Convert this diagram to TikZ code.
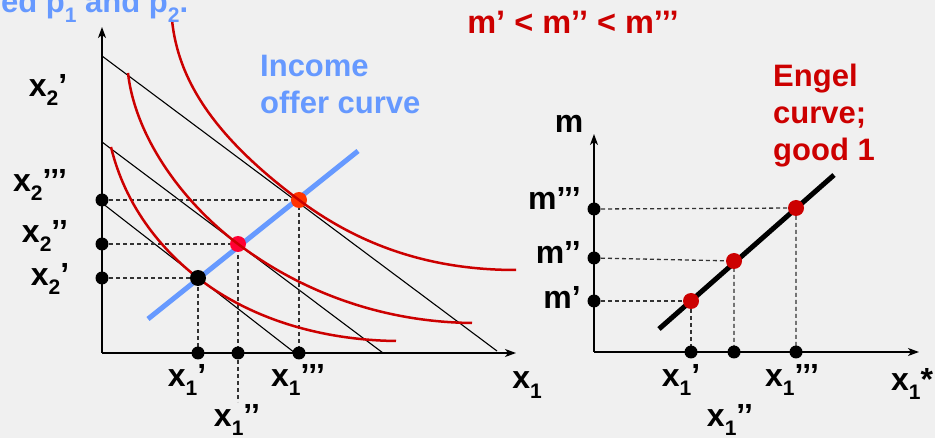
\documentclass[tikz,border=0pt]{standalone}
\usepackage{fontspec}
\setmainfont{Liberation Sans}
\usetikzlibrary{arrows.meta}
\definecolor{bg}{HTML}{F0F0F0}
\definecolor{icred}{HTML}{CC0000}
\definecolor{iocblue}{HTML}{6699FF}
\definecolor{ptpink}{HTML}{FF0033}
\definecolor{ptorange}{HTML}{FF3300}
\definecolor{dgray}{HTML}{333333}
\newcommand\sbx[1]{\raisebox{-0.3em}{\fontsize{21}{21}\selectfont #1}}
\newcommand\xl[2]{x\sbx{#1}#2}
\begin{document}
\begin{tikzpicture}[x=1pt,y=-1pt,
  lbl/.style={font=\fontsize{32}{36}\selectfont\bfseries, inner sep=0pt},
  txt/.style={font=\fontsize{31}{37}\selectfont\bfseries, inner sep=0pt, align=left},
  axisline/.style={line width=1.4pt, -{Stealth[length=11pt,width=8pt,inset=3pt]}},
  budget/.style={line width=1.1pt},
  ic/.style={line width=2.5pt, draw=icred},
  ioc/.style={line width=5pt, draw=iocblue},
  engel/.style={line width=5pt, draw=black},
  guide/.style={dash pattern=on 4pt off 3pt, line width=1.3pt, draw=dgray},
  axdot/.style={circle, fill=black, inner sep=0pt, minimum size=13pt},
  bigdot/.style={circle, inner sep=0pt, minimum size=16pt}
]
\fill[bg] (0,0) rectangle (935,438);
\useasboundingbox (0,0) rectangle (935,438);

% ---------- left diagram ----------
\coordinate (O) at (102,353);
\coordinate (Ytop) at (102,27);
\coordinate (Xend) at (516,353);
\draw[axisline] (O) -- (Ytop);
\draw[axisline] (O) -- (Xend);

\coordinate (L1a) at (102,203); \coordinate (L1b) at (295,353);
\coordinate (L2a) at (102,142); \coordinate (L2b) at (383,353);
\coordinate (L3a) at (102,56);  \coordinate (L3b) at (497,351);
\draw[budget] (L1a) -- (L1b);
\draw[budget] (L2a) -- (L2b);
\draw[budget] (L3a) -- (L3b);

\coordinate (ioc1) at (148,319); \coordinate (ioc2) at (358,151);
\draw[ioc] (ioc1) -- (ioc2);

\coordinate (A) at (198,278);
\coordinate (B) at (238,244);
\coordinate (C) at (299,200);
\coordinate (Ay) at (102,278); \coordinate (By) at (102,244); \coordinate (Cy) at (102,200);
\coordinate (Ax) at (198,353); \coordinate (Bx) at (238,353); \coordinate (Cx) at (299,353);
\coordinate (Bbelow) at (238,402);
\draw[guide] (Ay) -- (A) -- (Ax);
\draw[guide] (By) -- (B) -- (Bbelow);
\draw[guide] (Cy) -- (C) -- (Cx);

\node[axdot] (dAy) at (Ay) {};
\node[axdot] (dBy) at (By) {};
\node[axdot] (dCy) at (Cy) {};
\node[axdot] (dAx) at (Ax) {};
\node[axdot] (dBx) at (Bx) {};
\node[axdot] (dCx) at (Cx) {};
\node[bigdot, fill=ptpink] (dB) at (B) {};
\node[bigdot, fill=ptorange] (dC) at (C) {};

% indifference curves
\draw[ic] (111,147) .. controls (125,205) and (160,248.5) .. (A)
          .. controls (250,318.4) and (320,340) .. (396,341);
\draw[ic] (128,73) .. controls (135,135) and (180,200) .. (B)
          .. controls (300,290.6) and (380,322) .. (472,323);
\draw[ic] (172,20) .. controls (178,80) and (214,136.5) .. (C)
          .. controls (360,245.5) and (430,270) .. (516,270);

\node[bigdot, fill=black] (dA) at (A) {};

\node[lbl] (lx2top) at (48,90) {\xl{2}{’}};
\node[lbl] (lx2c) at (40,185) {\xl{2}{’’’}};
\node[lbl] (lx2b) at (45,236) {\xl{2}{’’}};
\node[lbl] (lx2a) at (50,279) {\xl{2}{’}};
\node[lbl] (lx1a) at (187,380) {\xl{1}{’}};
\node[lbl] (lx1c) at (298,380) {\xl{1}{’’’}};
\node[lbl] (lx1b) at (237,420) {\xl{1}{’’}};
\node[lbl] (lx1) at (527,385) {\xl{1}{}};

\node[txt, text=iocblue, anchor=base west] (title) at (1,13) {ed p\sbx{1} and p\sbx{2}.};
\node[txt, text=iocblue, anchor=north west] (ioclabel) at (260,55) {Income\\offer curve};
\node[txt, text=icred, font=\fontsize{32.5}{37}\selectfont\bfseries] (mineq) at (573,22) {m’ < m’’ < m’’’};

% ---------- right diagram ----------
\coordinate (O2) at (594,352);
\coordinate (Ytop2) at (594,134);
\coordinate (Xend2) at (919,352);
\draw[axisline] (O2) -- (Ytop2);
\draw[axisline] (O2) -- (Xend2);

\coordinate (E1) at (659,329); \coordinate (E2) at (834,175);
\draw[engel] (E1) -- (E2);

\coordinate (P) at (691,301);
\coordinate (Q) at (734,261);
\coordinate (R) at (796,208);
\coordinate (Py) at (594,301); \coordinate (Qy) at (594,258); \coordinate (Ry) at (594,209);
\coordinate (Px) at (691,352); \coordinate (Qx) at (734,352); \coordinate (Rx) at (796,352);
\draw[guide] (Py) -- (P) -- (Px);
\draw[guide] (Qy) -- (Q) -- (Qx);
\draw[guide] (Ry) -- (R) -- (Rx);

\node[axdot] (dPy) at (Py) {};
\node[axdot] (dQy) at (Qy) {};
\node[axdot] (dRy) at (Ry) {};
\node[axdot] (dPx) at (Px) {};
\node[axdot] (dQx) at (Qx) {};
\node[axdot] (dRx) at (Rx) {};
\node[bigdot, fill=icred] (dP) at (P) {};
\node[bigdot, fill=icred] (dQ) at (Q) {};
\node[bigdot, fill=icred] (dR) at (R) {};

\node[lbl] (lm) at (569,124) {m};
\node[lbl, anchor=east] (lm3) at (581,198) {m’’’};
\node[lbl, anchor=east] (lm2) at (581,252) {m’’};
\node[lbl, anchor=east] (lm1) at (581,297) {m’};
\node[lbl] (rx1a) at (681,380) {\xl{1}{’}};
\node[lbl] (rx1c) at (792,380) {\xl{1}{’’’}};
\node[lbl] (rx1b) at (730,420) {\xl{1}{’’}};
\node[lbl] (rx1s) at (912,384) {\xl{1}{*}};
\node[txt, text=icred, anchor=north west] (engellabel) at (773,64) {Engel\\curve;\\good 1};
\end{tikzpicture}
\end{document}
